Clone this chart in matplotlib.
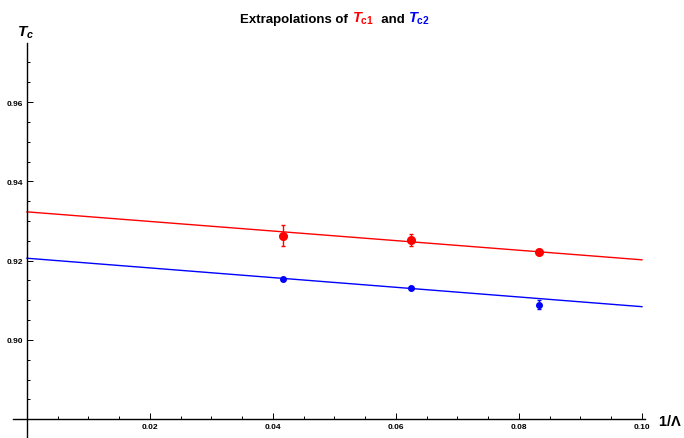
import matplotlib
matplotlib.use("Agg")
import matplotlib.pyplot as plt
import numpy as np
from matplotlib.ticker import MultipleLocator
from matplotlib.offsetbox import TextArea, HPacker, AnchoredOffsetbox

# data
inv_lambda = [1/24, 1/16, 1/12]
tc1 = [0.9263, 0.9252, 0.9222]
tc1_err = [0.0027, 0.0016, 0.0005]
tc2 = [0.9154, 0.9131, 0.9089]
tc2_err = [0.0003, 0.0003, 0.0011]
# linear fits: (intercept, slope)
fit1 = (0.9323, -0.1210)
fit2 = (0.9206, -0.1222)
x_ticks = [0.02, 0.04, 0.06, 0.08, 0.10]
y_ticks = [0.90, 0.92, 0.94, 0.96]

plt.rcParams['font.family'] = ['Liberation Sans', 'DejaVu Sans']
plt.rcParams['mathtext.fontset'] = 'custom'
plt.rcParams['mathtext.it'] = 'Liberation Sans:italic:bold'
plt.rcParams['mathtext.rm'] = 'Liberation Sans:bold'

fig = plt.figure(figsize=(6.84, 4.39), dpi=100)
ax = fig.add_axes([13/684, 1/439, (645-13)/684, (438-44)/439])
ax.set_xlim(-0.00227, 0.1005)
ax.set_ylim(0.8755, 0.9749)

xs = np.linspace(0, 0.1, 50)
ax.plot(xs, fit1[0] + fit1[1]*xs, color='#ff0000', lw=1.0)
ax.plot(xs, fit2[0] + fit2[1]*xs, color='#0000ff', lw=1.0)
ax.errorbar(inv_lambda, tc1, yerr=tc1_err, fmt='o', color='#ff0000', ms=5.5,
            capsize=1.5, elinewidth=1.0, capthick=1.0)
ax.errorbar(inv_lambda, tc2, yerr=tc2_err, fmt='o', color='#0000ff', ms=4,
            capsize=1.5, elinewidth=1.0, capthick=1.0)

for s in ['top', 'right']:
    ax.spines[s].set_visible(False)
ax.spines['left'].set_position(('data', 0))
ax.spines['bottom'].set_position(('data', 0.88))
ax.spines['left'].set_linewidth(1.0)
ax.spines['bottom'].set_linewidth(1.0)

ax.set_xticks(x_ticks)
ax.set_xticklabels(["%.2f" % v for v in x_ticks])
ax.set_yticks(y_ticks)
ax.set_yticklabels(["%.2f" % v for v in y_ticks])
ax.xaxis.set_minor_locator(MultipleLocator(0.005))
ax.yaxis.set_minor_locator(MultipleLocator(0.005))
ax.tick_params(which='both', direction='in', labelsize=6, width=0.7)
ax.tick_params(which='major', length=4, pad=3)
ax.tick_params(which='minor', length=2)
for lab in ax.get_xticklabels() + ax.get_yticklabels():
    lab.set_fontweight('bold')

# axis labels in Mathematica style
fig.text(17/684, 1-33/439, r'$T_c$', fontsize=11, color='black', va='center', ha='left')
fig.text(682/684, 1-422/439, r'$1/\Lambda$', fontsize=10.5, va='center', ha='right')

# title with coloured parts
parts = [
    TextArea('Extrapolations of ', textprops=dict(fontsize=9.5, fontweight='bold')),
    TextArea(r'$T_{\mathrm{c1}}$', textprops=dict(fontsize=10.5, color='#ff0000')),
    TextArea('  and ', textprops=dict(fontsize=9.5, fontweight='bold')),
    TextArea(r'$T_{\mathrm{c2}}$', textprops=dict(fontsize=10.5, color='#0000ff')),
]
box = HPacker(children=parts, align='baseline', pad=0, sep=0)
title = AnchoredOffsetbox(loc='center', child=box, pad=0, frameon=False,
                          bbox_to_anchor=(335/684, 1-19/439),
                          bbox_transform=fig.transFigure, borderpad=0)
fig.add_artist(title)

fig.savefig('out.png', dpi=100)
